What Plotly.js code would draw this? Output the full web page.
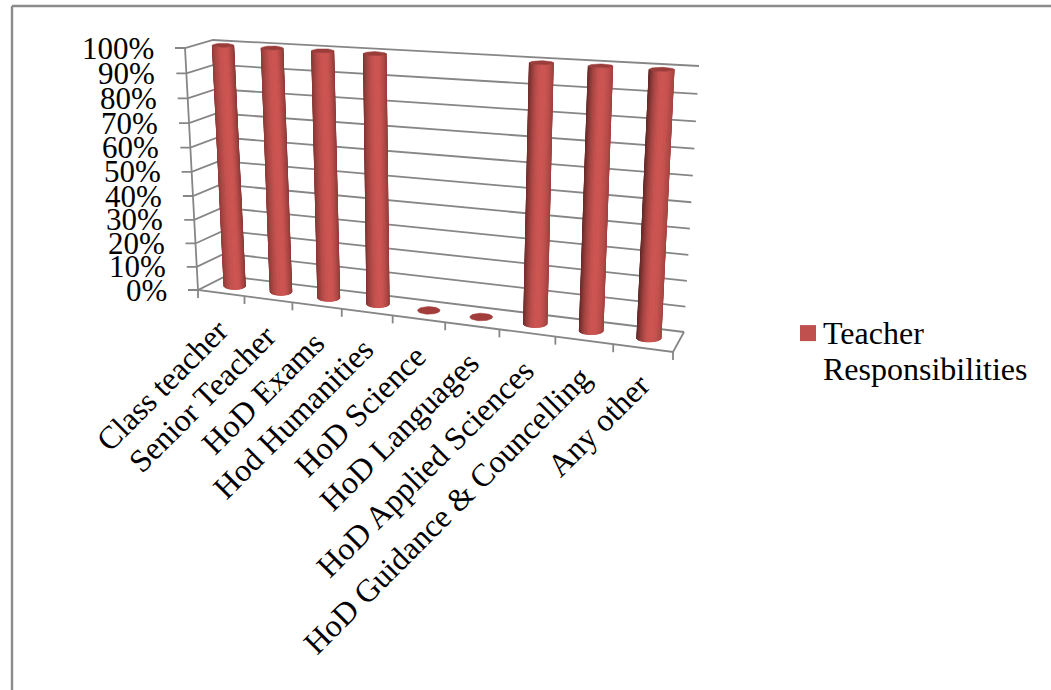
<!DOCTYPE html>
<html>
<head>
<meta charset="utf-8">
<script src="https://cdn.plot.ly/plotly-3.0.1.min.js"></script>
<style>html,body{margin:0;padding:0;background:#fff}#chart{width:1051px;height:690px}</style>
</head>
<body>
<div id="chart"></div>
<script>
const categories = ["Class teacher","Senior Teacher","HoD Exams","Hod Humanities","HoD Science","HoD Languages","HoD Applied Sciences","HoD Guidance & Councelling","Any other"];
const values = [100,100,100,100,0,0,100,100,100];
const valueTicks = [0,10,20,30,40,50,60,70,80,90,100];
const seriesName = "Teacher<br>Responsibilities";

const FONT = "Liberation Serif";
const FS = 32;
const FS_Y = 31;
const GRID = "#868686";

// 3-D box of the chart as seen on the page
const box = {
  f0:[[198,290],[673,352]], f1:[[185,48],[687,76]],
  b0:[[226,276],[684,332]], b1:[[213,40],[699,66]]
};
const lerp=(a,b,t)=>a+(b-a)*t;
const lerp2=(a,b,t)=>[lerp(a[0],b[0],t),lerp(a[1],b[1],t)];
const persp=(t,k)=>t/(t+k*(1-t));
const tU=u=>persp(u,1.152), tV=v=>persp(v/100,1.05);
function P(u,v,d){
  const tu=tU(u),tv=tV(v);
  const bottom=lerp2(lerp2(box.f0[0],box.f0[1],tu),lerp2(box.b0[0],box.b0[1],tu),d);
  const top=lerp2(lerp2(box.f1[0],box.f1[1],tu),lerp2(box.b1[0],box.b1[1],tu),d);
  return lerp2(bottom,top,tv);
}
const n=categories.length;
const traces=[];

// frame, gridlines, tick marks
const gx=[],gy=[];
const seg=(pts)=>{pts.forEach(p=>{gx.push(p[0]);gy.push(p[1]);});gx.push(null);gy.push(null);};
const yTickLabels=[];
valueTicks.forEach(v=>{
  const a=P(0,v,0),b=P(0,v,1),c=P(1,v,1);
  seg([[a[0]-10,a[1]],a,b,c]);
  yTickLabels.push({v,x:a[0]-10-21,y:a[1]});
});
seg([P(0,100,0),P(0,0,0),P(1,0,0),P(1,0,1)]);
for(let i=0;i<=n;i++){const a=P(i/n,0,0);seg([a,[a[0],a[1]+8]]);}
traces.push({type:"scatter",mode:"lines",x:gx,y:gy,line:{color:GRID,width:1.8},hoverinfo:"skip",showlegend:false});

// cylinders: vertical strips shaded around the curve
const LEVELS=32,lo=0.46,hi=1.08;
const lx=Array.from({length:LEVELS},()=>[]),ly=Array.from({length:LEVELS},()=>[]);
const capX=[],capY=[],discX=[],discY=[];
const S=30;
function shade(s,tu){
  const p=0.15;
  const dl=lerp(0.76,0.48,tu), dr=lerp(0.70,0.86,tu);
  const e=s<p?(p-s)/(1+p):(s-p)/(1-p);
  const edge=s<p?dl:dr;
  return 1.06-(1.06-edge)*Math.pow(e,1.9);
}
const ellipse=(c,r,b,xs,ys)=>{for(let k=0;k<=40;k++){const a=k/40*2*Math.PI;xs.push(c[0]+r*Math.cos(a));ys.push(c[1]+b*Math.sin(a));}xs.push(null);ys.push(null);};
values.forEach((val,i)=>{
  const u=(i+.5)/n,tu=tU(u);
  const c0=P(u,0,.5),c1=P(u,val,.5);
  const r=10.5+1.6*tu;
  if(val===0){ellipse(c0,r,3.8,discX,discY);return;}
  const b0=3.6,b1=2;
  for(let k=0;k<S;k++){
    const a1=-Math.PI/2+Math.PI*k/S,a2=-Math.PI/2+Math.PI*(k+1)/S;
    const mid=Math.sin((a1+a2)/2);
    const f=shade(mid,tu);
    const l=Math.max(0,Math.min(LEVELS-1,Math.round((f-lo)/(hi-lo)*(LEVELS-1))));
    lx[l].push(c0[0]+r*Math.sin(a1),c0[0]+r*Math.sin(a2),c1[0]+(r+.4*tu)*Math.sin(a2),c1[0]+(r+.4*tu)*Math.sin(a1),c0[0]+r*Math.sin(a1),null);
    ly[l].push(c0[1]+b0*Math.cos(a1),c0[1]+b0*Math.cos(a2),c1[1]+b1*Math.cos(a2),c1[1]+b1*Math.cos(a1),c0[1]+b0*Math.cos(a1),null);
  }
  ellipse(c1,r+.4*tu,b1,capX,capY);
});
for(let l=0;l<LEVELS;l++){
  if(!lx[l].length)continue;
  const f=lo+(hi-lo)*l/(LEVELS-1);
  const col=`rgb(${Math.round(192*f)},${Math.round(80*f)},${Math.round(77*f)})`;
  traces.push({type:"scatter",mode:"lines",x:lx[l],y:ly[l],fill:"toself",fillcolor:col,line:{color:col,width:1},hoverinfo:"skip",showlegend:false});
}
traces.push({type:"scatter",mode:"lines",x:capX,y:capY,fill:"toself",fillcolor:"#993c3a",line:{color:"#993c3a",width:0.5},hoverinfo:"skip",showlegend:false});
traces.push({type:"scatter",mode:"lines",x:discX,y:discY,fill:"toself",fillcolor:"#a23d3b",line:{color:"#a23d3b",width:0.5},hoverinfo:"skip",showlegend:false});

// legend entry
traces.push({type:"scatter",mode:"markers",x:[null],y:[null],name:seriesName,marker:{symbol:"square",size:16,color:"#C0504D"},showlegend:true,hoverinfo:"skip"});

const annotations=[];
yTickLabels.forEach(t=>annotations.push({xref:"x",yref:"y",x:t.x,y:t.y,text:t.v+"%",showarrow:false,xanchor:"right",yanchor:"middle",font:{family:FONT,size:FS_Y,color:"#000"},borderpad:0,borderwidth:0}));
categories.forEach((c,i)=>{
  const p=P((i+.5)/n,0,0);
  annotations.push({xref:"x",yref:"y",x:p[0]+14,y:p[1]+19,text:c,showarrow:false,textangle:-45,xanchor:"right",yanchor:"top",font:{family:FONT,size:FS,color:"#000"},borderpad:0,borderwidth:0});
});

const layout={
  width:1051,height:690,margin:{l:0,r:0,t:0,b:0},
  paper_bgcolor:"#fff",plot_bgcolor:"#fff",
  xaxis:{range:[0,1051],visible:false,fixedrange:true},
  yaxis:{range:[690,0],visible:false,fixedrange:true},
  annotations,
  legend:{x:783/1051,y:1-304/690,xanchor:"left",yanchor:"top",bgcolor:"rgba(0,0,0,0)",font:{family:FONT,size:FS,color:"#000"},itemclick:false,itemdoubleclick:false},
  shapes:[
    {type:"line",xref:"paper",yref:"paper",x0:12/1051,x1:12/1051,y0:0,y1:1-6/690,line:{color:"#8c8c8c",width:2.4}},
    {type:"line",xref:"paper",yref:"paper",x0:12/1051,x1:1,y0:1-6/690,y1:1-6/690,line:{color:"#8c8c8c",width:2.4}}
  ],
  hovermode:false,showlegend:true
};
Plotly.newPlot("chart",traces,layout,{displayModeBar:false,staticPlot:true}).then(gd=>{
  // tighten the legend to the reference's line spacing and swatch position
  const sym=gd.querySelector(".legend .legendsymbols");
  const txt=gd.querySelector(".legend .legendtext");
  if(sym){sym.setAttribute("transform","translate(5,-19)");}
  if(txt){
    const lines=txt.querySelectorAll("tspan.line");
    if(lines.length>1){lines[1].setAttribute("y",parseFloat(lines[1].getAttribute("y"))-5);}
  }
});
</script>
</body>
</html>
